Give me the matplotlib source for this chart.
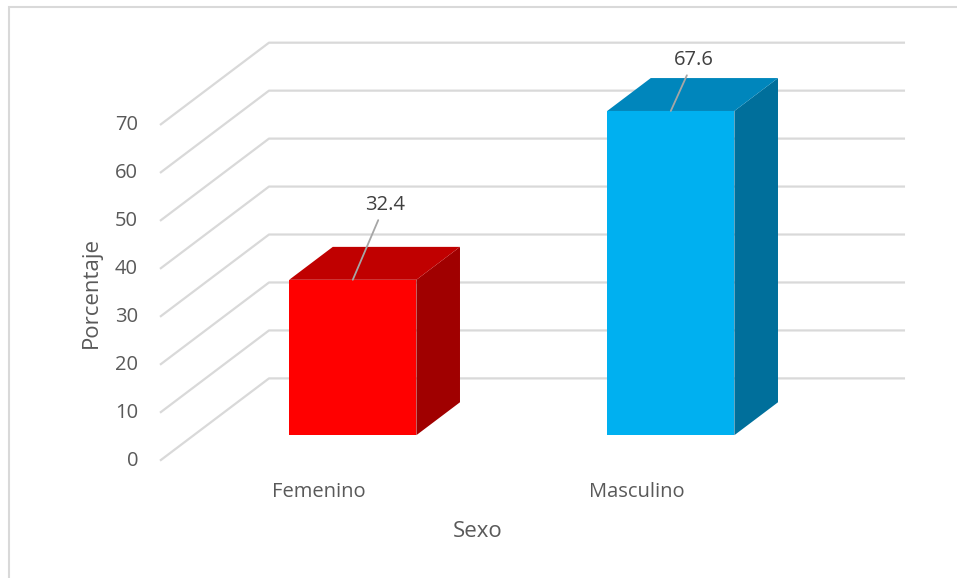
import numpy as np
import matplotlib
matplotlib.use('Agg')
from matplotlib import pyplot as plt
from matplotlib.patches import Polygon, Rectangle

# ---------- Data
categorias = ['Femenino', 'Masculino']
porcentaje = [32.4, 67.6]
ticks_y = [0, 10, 20, 30, 40, 50, 60, 70]

# ---------- Style
col_front = ['#FF0000', '#00B0F0']
col_top = ['#C00000', '#0086BC']
col_side = ['#A00000', '#006F9B']
grid_col = '#D9D9D9'
txt_col = '#595959'
lbl_col = '#404040'
plt.rcParams['font.family'] = ['Open Sans', 'DejaVu Sans']

# ---------- Oblique 3D projection (category units, value units)
DX = 0.3428      # horizontal shift of full depth
DY = 17.16       # vertical shift of full depth
D0, D1 = 0.31, 0.71   # depth span of bars
HALF = 0.20      # half width of bars

def proj(c, v, d):
    return (c + d * DX, v + d * DY)

fig = plt.figure(figsize=(9.57, 5.78), dpi=100)
ax = fig.add_axes([0, 0, 1, 1])
ax.set_xlim(-0.5031, 2.5063)
ax.set_ylim(-24.46, 96.06)
ax.axis('off')

# chart border
fig.patches.append(Rectangle((8.5 / 957, -0.01), 1.0, 1 - 6.5 / 578 + 0.01,
                             transform=fig.transFigure, fill=False,
                             edgecolor=grid_col, lw=1.5))

# ---------- Gridlines (side wall + back wall)
ncat = len(categorias)
for v in ticks_y:
    p0 = proj(0, v, 0)
    p1 = proj(0, v, 1)
    p2 = proj(ncat, v, 1)
    ax.plot([p0[0], p1[0], p2[0]], [p0[1], p1[1], p2[1]],
            color=grid_col, lw=1.6, zorder=1, solid_capstyle='butt')
    ax.text(-0.069, v, str(v), ha='right', va='center',
            fontsize=14.5, color=txt_col)

# ---------- Bars
lbl_off = [(32, 65), (23, 41)]   # leader line offsets in pixels
for i, (cat, val) in enumerate(zip(categorias, porcentaje)):
    c = i + 0.5
    l, r = c - HALF, c + HALF
    front = [proj(l, 0, D0), proj(r, 0, D0), proj(r, val, D0), proj(l, val, D0)]
    top = [proj(l, val, D0), proj(r, val, D0), proj(r, val, D1), proj(l, val, D1)]
    side = [proj(r, 0, D0), proj(r, 0, D1), proj(r, val, D1), proj(r, val, D0)]
    ax.add_patch(Polygon(side, closed=True, facecolor=col_side[i], edgecolor='none', zorder=3))
    ax.add_patch(Polygon(top, closed=True, facecolor=col_top[i], edgecolor='none', zorder=3))
    ax.add_patch(Polygon(front, closed=True, facecolor=col_front[i], edgecolor='none', zorder=4))

    # data label with leader line
    x0, y0 = proj(c, val, D0)
    ax.annotate(f'{val:.1f}', xy=(x0, y0), xycoords='data',
                xytext=(lbl_off[i][0] * 0.72, lbl_off[i][1] * 0.72),
                textcoords='offset points', ha='center', va='bottom',
                fontsize=14.5, color=lbl_col, zorder=6,
                arrowprops=dict(arrowstyle='-', color='#A6A6A6', lw=1.3,
                                shrinkA=2, shrinkB=0))

    # category label
    ax.text(c, -6.5, cat, ha='center', va='center', fontsize=14.5, color=txt_col)

# ---------- Axis titles
ax.text(ncat / 2, -14.8, 'Sexo', ha='center', va='center', fontsize=16, color=txt_col)
ax.text(-0.2165, 35, 'Porcentaje', ha='center', va='center', rotation=90,
        fontsize=16, color=txt_col)

plt.savefig('out.png', dpi=100)
